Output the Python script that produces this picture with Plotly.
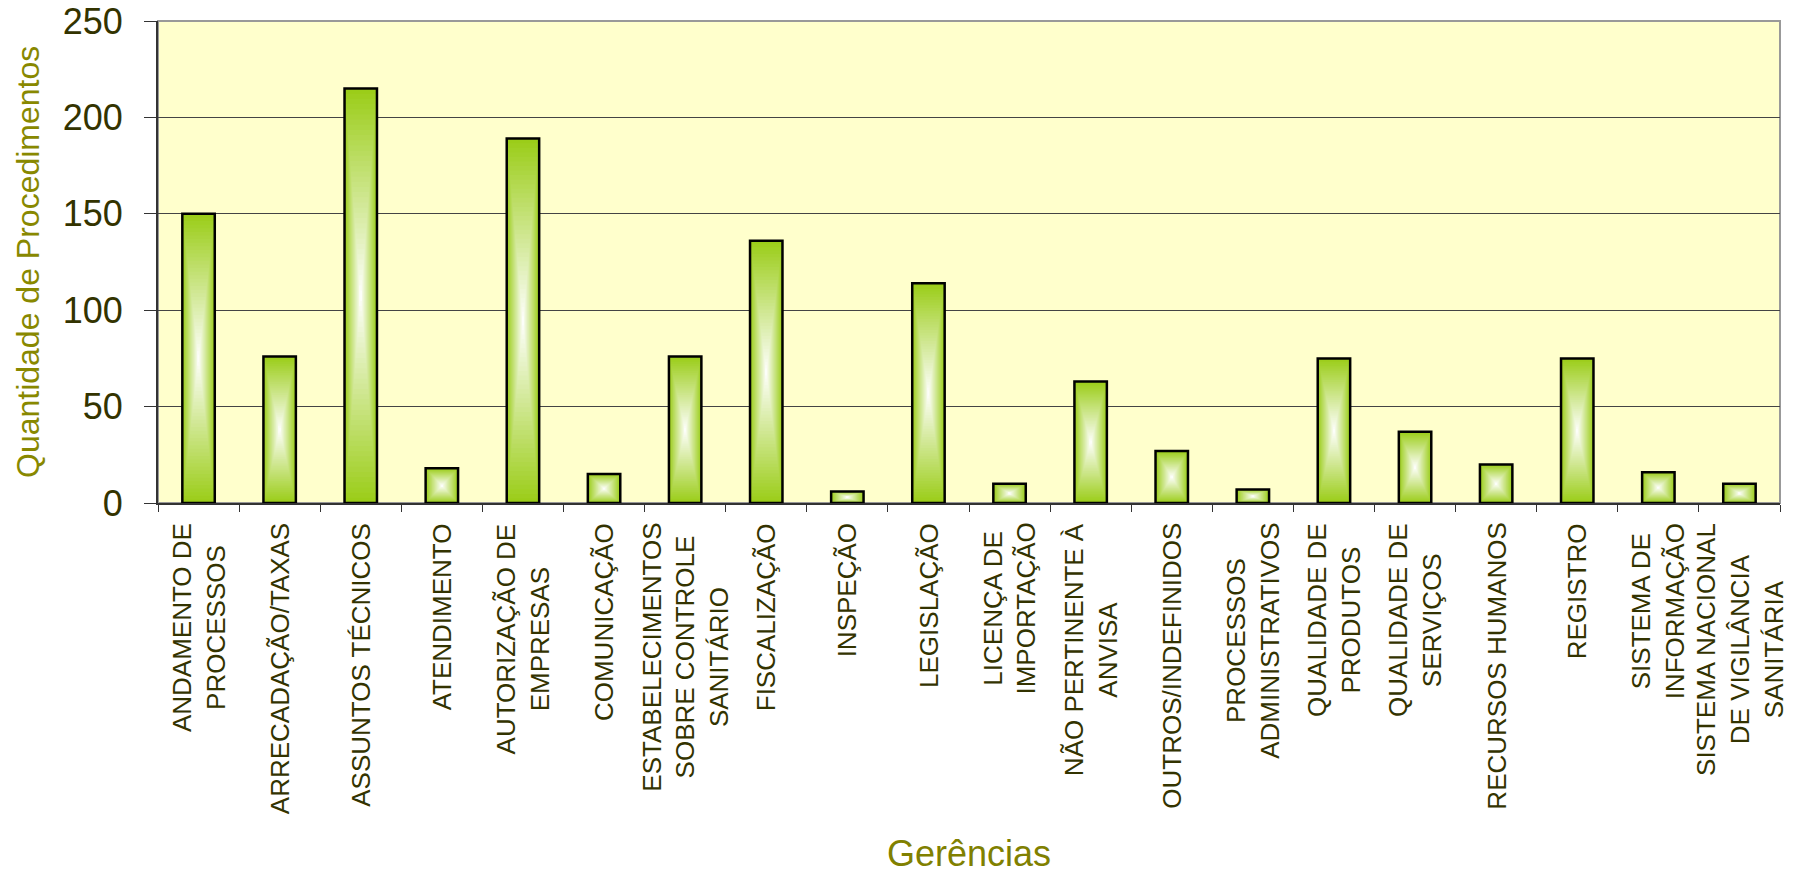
import plotly.graph_objects as go

categories = [
    "ANDAMENTO DE PROCESSOS", "ARRECADAÇÃO/TAXAS", "ASSUNTOS TÉCNICOS", "ATENDIMENTO",
    "AUTORIZAÇÃO DE EMPRESAS", "COMUNICAÇÃO", "ESTABELECIMENTOS SOBRE CONTROLE SANITÁRIO",
    "FISCALIZAÇÃO", "INSPEÇÃO", "LEGISLAÇÃO", "LICENÇA DE IMPORTAÇÃO",
    "NÃO PERTINENTE À ANVISA", "OUTROS/INDEFINIDOS", "PROCESSOS ADMINISTRATIVOS",
    "QUALIDADE DE PRODUTOS", "QUALIDADE DE SERVIÇOS", "RECURSOS HUMANOS", "REGISTRO",
    "SISTEMA DE INFORMAÇÃO", "SISTEMA NACIONAL DE VIGILÂNCIA SANITÁRIA",
]
values = [150, 76, 215, 18, 189, 15, 76, 136, 6, 114, 10, 63, 27, 7, 75, 37, 20, 75, 16, 10]
tick_labels = [
    "ANDAMENTO DE<br>PROCESSOS", "ARRECADAÇÃO/TAXAS", "ASSUNTOS TÉCNICOS", "ATENDIMENTO",
    "AUTORIZAÇÃO DE<br>EMPRESAS", "COMUNICAÇÃO", "ESTABELECIMENTOS<br>SOBRE CONTROLE<br>SANITÁRIO",
    "FISCALIZAÇÃO", "INSPEÇÃO", "LEGISLAÇÃO", "LICENÇA DE<br>IMPORTAÇÃO",
    "NÃO PERTINENTE À<br>ANVISA", "OUTROS/INDEFINIDOS", "PROCESSOS<br>ADMINISTRATIVOS",
    "QUALIDADE DE<br>PRODUTOS", "QUALIDADE DE<br>SERVIÇOS", "RECURSOS HUMANOS", "REGISTRO",
    "SISTEMA DE<br>INFORMAÇÃO", "SISTEMA NACIONAL<br>DE VIGILÂNCIA<br>SANITÁRIA",
]
y_ticks = [0, 50, 100, 150, 200, 250]

FONT = "Liberation Sans, Arial, sans-serif"
BAR_W = 0.4
GREEN = (155, 205, 25)
WHITE = (255, 255, 255)
LEVELS = 40

fig = go.Figure()

# rectangular "from centre" gradient made of nested bars
for k in range(LEVELS):
    s = 1 - k / LEVELS
    t = 1 - s
    col = tuple(int(round(g + (w - g) * t)) for g, w in zip(GREEN, WHITE))
    fig.add_trace(go.Bar(
        x=categories,
        y=[v * s for v in values],
        base=[v * (1 - s) / 2 for v in values],
        width=BAR_W * s,
        marker=dict(color="rgb(%d,%d,%d)" % col, line=dict(width=0)),
        hoverinfo="skip",
        showlegend=False,
    ))

fig.add_trace(go.Bar(
    x=categories,
    y=values,
    width=BAR_W,
    marker=dict(color="rgba(0,0,0,0)", line=dict(color="#000000", width=2.5)),
    showlegend=False,
    name="Procedimentos",
))

annotations = []
for cat, lab in zip(categories, tick_labels):
    annotations.append(dict(
        x=cat, xref="x", y=0, yref="paper", yanchor="top", xanchor="center",
        yshift=-18, text=lab, textangle=-90, align="center", showarrow=False,
        font=dict(family=FONT, size=26, color="#333300"),
    ))
annotations.append(dict(
    x=0.5, xref="paper", y=0, yref="paper", yshift=-350, yanchor="middle",
    text="Gerências", showarrow=False,
    font=dict(family=FONT, size=36, color="#808000"),
))
annotations.append(dict(
    x=0, xref="paper", xshift=-130, xanchor="center", y=0.5, yref="paper",
    yanchor="middle", text="Quantidade de Procedimentos", textangle=-90,
    showarrow=False, font=dict(family=FONT, size=32, color="#888800"),
))

fig.update_layout(
    width=1793, height=877,
    margin=dict(l=158, r=13, t=21, b=374, autoexpand=False),
    paper_bgcolor="white",
    plot_bgcolor="#FFFFCC",
    barmode="overlay",
    showlegend=False,
    annotations=annotations,
    shapes=[dict(type="rect", xref="paper", yref="paper", x0=0, x1=1, y0=0, y1=1,
                 line=dict(color="#999999", width=2), layer="below")],
    font=dict(family=FONT),
)
fig.update_xaxes(
    type="category", categoryorder="array", categoryarray=categories,
    range=[-0.5, len(categories) - 0.5], automargin=False,
    showticklabels=False, ticks="outside", tickson="boundaries", ticklen=7,
    tickcolor="#333333", tickwidth=1,
    showline=True, linecolor="#333333", linewidth=2, showgrid=False,
)
fig.update_yaxes(
    range=[0, 250], tickvals=y_ticks, ticks="outside", ticklen=12, automargin=False,
    tickcolor="#333333", tickwidth=1, ticklabelstandoff=14,
    tickfont=dict(family=FONT, size=36, color="#333300"),
    showline=True, linecolor="#333333", linewidth=2,
    showgrid=True, gridcolor="#444444", gridwidth=1, zeroline=False,
)

fig.write_html(
    "out.html",
    config={"displayModeBar": False},
    post_script="document.body.style.margin='0';document.body.style.overflow='hidden';",
)
